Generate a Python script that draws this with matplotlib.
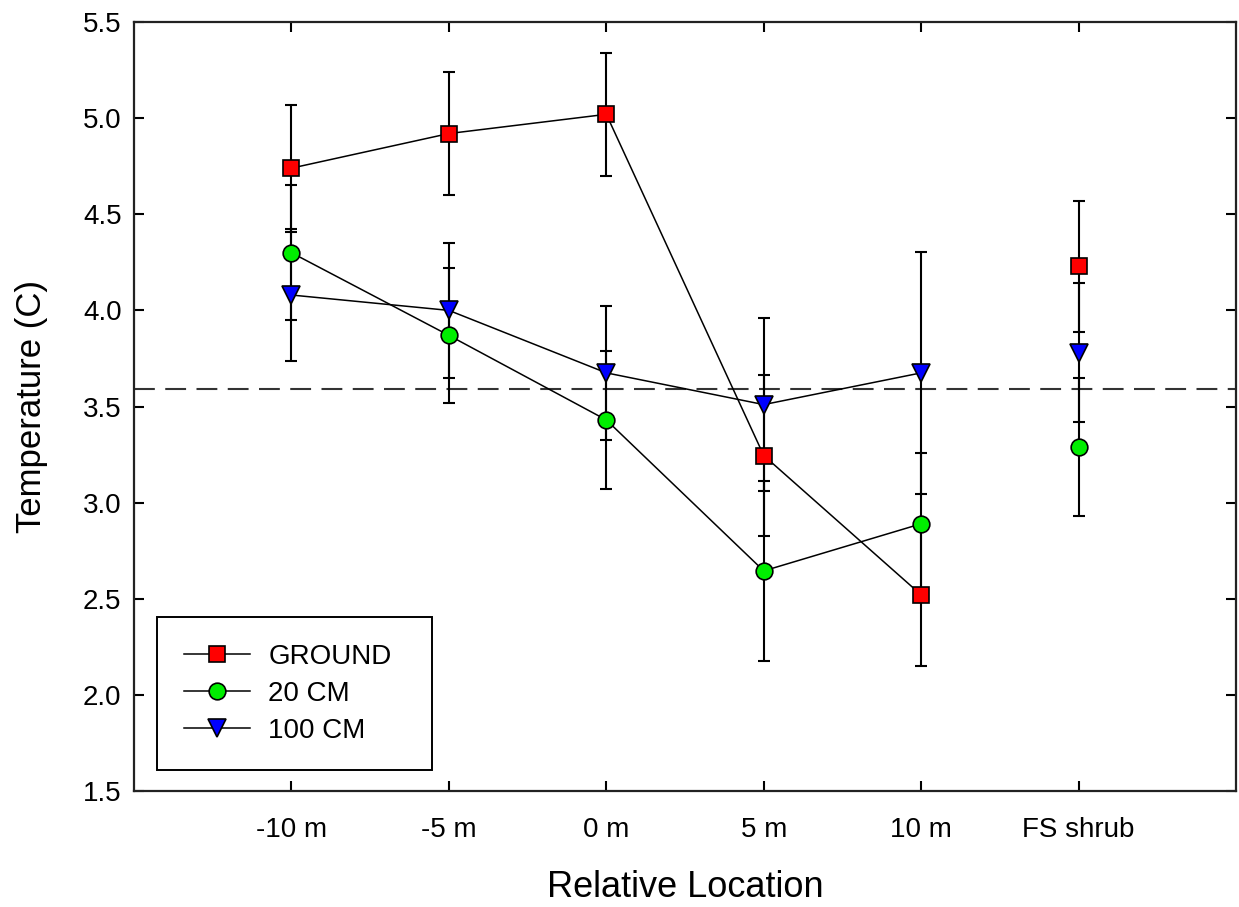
import numpy as np
import matplotlib.pyplot as plt
from matplotlib.lines import Line2D

plt.rcParams['font.family'] = ['Liberation Sans', 'DejaVu Sans']

locations = ['-10 m', '-5 m', '0 m', '5 m', '10 m', 'FS shrub']

ground = [4.74, 4.92, 5.02, 3.245, 2.52, 4.23]
ground_err = [0.33, 0.32, 0.32, 0.42, 0.37, 0.34]

cm20 = [4.30, 3.87, 3.43, 2.645, 2.89, 3.29]
cm20_err = [0.35, 0.35, 0.36, 0.47, 0.37, 0.36]

cm100 = [4.08, 4.00, 3.675, 3.51, 3.675, 3.78]
cm100_err = [0.345, 0.35, 0.35, 0.45, 0.63, 0.36]

reference_temp = 3.59

series = [
    ('GROUND', ground, ground_err, 's', '#ff0000', 11.5),
    ('20 CM', cm20, cm20_err, 'o', '#00ee00', 12),
    ('100 CM', cm100, cm100_err, 'v', '#0000ff', 13),
]

fig = plt.figure(figsize=(12.39, 9.07), dpi=100)
ax = fig.add_axes([0.1082, 0.1279, 0.8894, 0.8478])

x = np.arange(1, len(locations) + 1)

ax.axhline(reference_temp, color='#333333', lw=1.5, dashes=(10, 5), zorder=1)

handles = []
for name, vals, errs, mk, col, ms in series:
    ax.errorbar(x, vals, yerr=errs, fmt='none', ecolor='black', elinewidth=1.5,
                capsize=4.3, capthick=1.5, zorder=2)
    # the locations along the transect are joined, the shrub point stands alone
    ax.plot(x[:5], vals[:5], color='black', lw=1.1, zorder=3)
    ax.plot(x, vals, linestyle='none', marker=mk, ms=ms, mfc=col, mec='black',
            mew=1.2, zorder=4)
    handles.append(Line2D([], [], color='black', lw=1.1, marker=mk, ms=ms,
                          mfc=col, mec='black', mew=1.2))

ax.set_xlim(0, 7)
ax.set_ylim(1.5, 5.5)
ax.set_xticks(x)
ax.set_xticklabels(locations)
ax.set_yticks(np.arange(1.5, 5.51, 0.5))
ax.set_yticklabels(['%.1f' % v for v in np.arange(1.5, 5.51, 0.5)])
ax.tick_params(direction='in', length=7, width=1.5, labelsize=20,
               top=True, right=True)
ax.tick_params(axis='x', pad=19)
ax.tick_params(axis='y', pad=9)
for sp in ax.spines.values():
    sp.set_linewidth(1.6)
    sp.set_color('#222222')

ax.set_xlabel('Relative Location', fontsize=26, labelpad=19.5)
ax.set_ylabel('Temperature (C)', fontsize=25, labelpad=25)

leg = ax.legend(handles, [s[0] for s in series], loc='lower left',
                bbox_to_anchor=(0.021, 0.027, 0.2495, 0.2), mode='expand',
                borderaxespad=0, fontsize=20,
                fancybox=False, edgecolor='black', framealpha=1,
                handlelength=2.4, handletextpad=0.65, borderpad=0.95,
                labelspacing=0.4)
leg.get_frame().set_linewidth(1.4)

fig.savefig('out.png', dpi=100)
